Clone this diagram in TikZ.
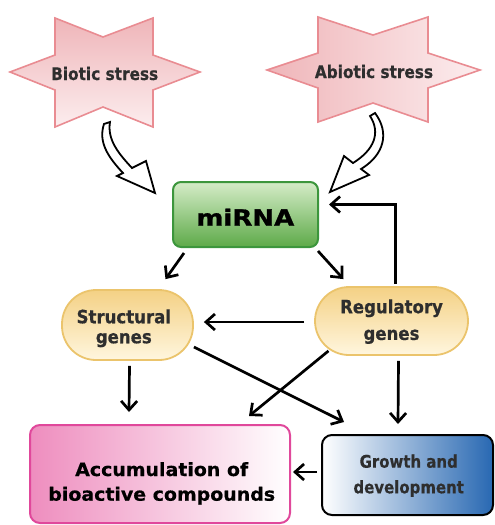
\documentclass[tikz,border=0pt]{standalone}
\usepackage{fontspec}
\setmainfont{DejaVu Sans}
\newfontfamily\fstar{DejaVu Sans}[FakeStretch=0.88,FakeBold=0.6]
\newfontfamily\fmir{DejaVu Sans}[FakeStretch=1.16,FakeBold=1.2]
\newfontfamily\fgene{DejaVu Sans}[FakeStretch=0.905,FakeBold=0.6]
\newfontfamily\facc{DejaVu Sans}[FakeStretch=1.035,FakeBold=0.6]
\newfontfamily\fgrow{DejaVu Sans}[FakeStretch=0.86,FakeBold=0.4]
\usetikzlibrary{arrows.meta}
\definecolor{starfillA}{HTML}{EFB5B9}
\definecolor{starfillB}{HTML}{FCEDEE}
\definecolor{starline}{HTML}{E98C92}
\definecolor{mirtop}{HTML}{D5ECC8}
\definecolor{mirbot}{HTML}{5DAA48}
\definecolor{mirline}{HTML}{3C963C}
\definecolor{genetop}{HTML}{F4D185}
\definecolor{genebot}{HTML}{FFF6DE}
\definecolor{geneline}{HTML}{EBC46C}
\definecolor{accleft}{HTML}{EE8DBE}
\definecolor{accline}{HTML}{E0489B}
\definecolor{growright}{HTML}{2868B2}
\definecolor{txtgray}{HTML}{2E2E2E}
\begin{document}
\begin{tikzpicture}[x=1pt,y=-1pt,
  arr/.style={line width=2.7pt, -{Straight Barb[length=9pt,width=16pt]}},
  hollow/.style={draw=black, fill=white, line width=1.8pt, line join=miter},
  startext/.style={font=\fstar\bfseries\fontsize{17.4}{20}\selectfont, text=txtgray, anchor=base, inner sep=0pt},
  genebox/.style={draw=geneline, line width=1.8pt, top color=genetop, bottom color=genebot,
    rounded corners=34pt, inner sep=0pt},
  lbl/.style={inner sep=0pt, align=center}
]
\useasboundingbox (0,0) rectangle (495,525);

% stars
\draw[starline, line width=1.6pt, top color=starfillA, bottom color=starfillB]
  (10,72) -- (55,55) -- (55,18) -- (103,37) -- (153,18) -- (153,55) -- (200,72)
  -- (153,90) -- (153,127) -- (103,107) -- (55,127) -- (55,90) -- cycle;
\node[startext] (biotic) at (104.7,80) {Biotic stress};

\draw[starline, line width=1.6pt, left color=starfillA, right color=starfillB]
  (267,70) -- (318,53) -- (318,17) -- (373,35) -- (428,17) -- (428,53) -- (480,70)
  -- (428,88) -- (428,122) -- (373,103) -- (318,122) -- (318,88) -- cycle;
\node[startext] (abiotic) at (374,78) {Abiotic stress};

% hollow curved arrows
\draw[hollow] (104,124) .. controls (98,142) and (108,157) .. (123,173)
  -- (117,176) -- (155,193) -- (146,161) -- (132,168)
  .. controls (119,154) and (107,140) .. (110,122) -- cycle;
\draw[hollow] (370,116) .. controls (381,133) and (374,150) .. (353,163)
  -- (344,156) -- (330,192) -- (369,175) -- (361,169)
  .. controls (384,155) and (390,133) .. (375,113) -- cycle;

% shapes
\node[draw=mirline, line width=2pt, top color=mirtop, bottom color=mirbot,
  rounded corners=8pt, minimum width=145pt, minimum height=65pt, inner sep=0pt] (mirna) at (245.5,214.5) {};
\node[genebox, minimum width=131pt, minimum height=70pt] (struct) at (127.5,325) {};
\node[genebox, minimum width=153pt, minimum height=68pt] (reg) at (391.5,321) {};
\node[draw=accline, line width=2pt, left color=accleft, right color=white,
  rounded corners=10pt, minimum width=260pt, minimum height=98pt, inner sep=0pt] (accum) at (160,474) {};
\node[draw=black, line width=2pt, left color=white, right color=growright,
  rounded corners=10pt, minimum width=171pt, minimum height=80pt, inner sep=0pt] (growth) at (407.5,475) {};

% labels
\node[inner sep=0pt, anchor=base, font=\fmir\bfseries\fontsize{22.4}{26}\selectfont] (mirnatext) at (245.3,225.7) {miRNA};
\node[lbl, text=txtgray, font=\fgene\bfseries\fontsize{18.3}{20}\selectfont] (structtext) at (123.8,328.3) {Structural\\genes};
\node[lbl, text=txtgray, font=\fgene\bfseries\fontsize{18.3}{26.7}\selectfont] (regtext) at (391.5,321.6) {Regulatory\\genes};
\node[lbl, font=\facc\bfseries\fontsize{18.3}{24.7}\selectfont] (accumtext) at (161.7,483.3) {Accumulation of\\bioactive compounds};
\node[lbl, text=txtgray, font=\fgrow\bfseries\fontsize{17.4}{25.6}\selectfont] (growthtext) at (408.7,475.7) {Growth and\\development};

% connectors
\draw[arr] ([shift={(12,5)}]mirna.south west) -- ([shift={(38,-10)}]struct.north);
\draw[arr] ([shift={(-1,3)}]mirna.south east) -- ([shift={(-48,-7)}]reg.north);
\draw[arr] ([shift={(4,-2)}]reg.north) |- ([shift={(10,-10)}]mirna.east);
\draw[arr] ([shift={(-10,1)}]reg.west) -- ([shift={(10,-3)}]struct.east);
\draw[arr] ([shift={(2,5)}]struct.south) -- ([shift={(-31,-12)}]accum.north);
\draw[arr] ([shift={(0,22)}]struct.east) -- ([shift={(23,-12)}]growth.north west);
\draw[arr] ([shift={(-63,-5)}]reg.south) -- ([shift={(-42,-8)}]accum.north east);
\draw[arr] ([shift={(7,5)}]reg.south) -- ([shift={(-9.5,-10)}]growth.north);
\draw[arr] ([shift={(-4,-3)}]growth.west) -- ([shift={(2,-2)}]accum.east);
\end{tikzpicture}
\end{document}
